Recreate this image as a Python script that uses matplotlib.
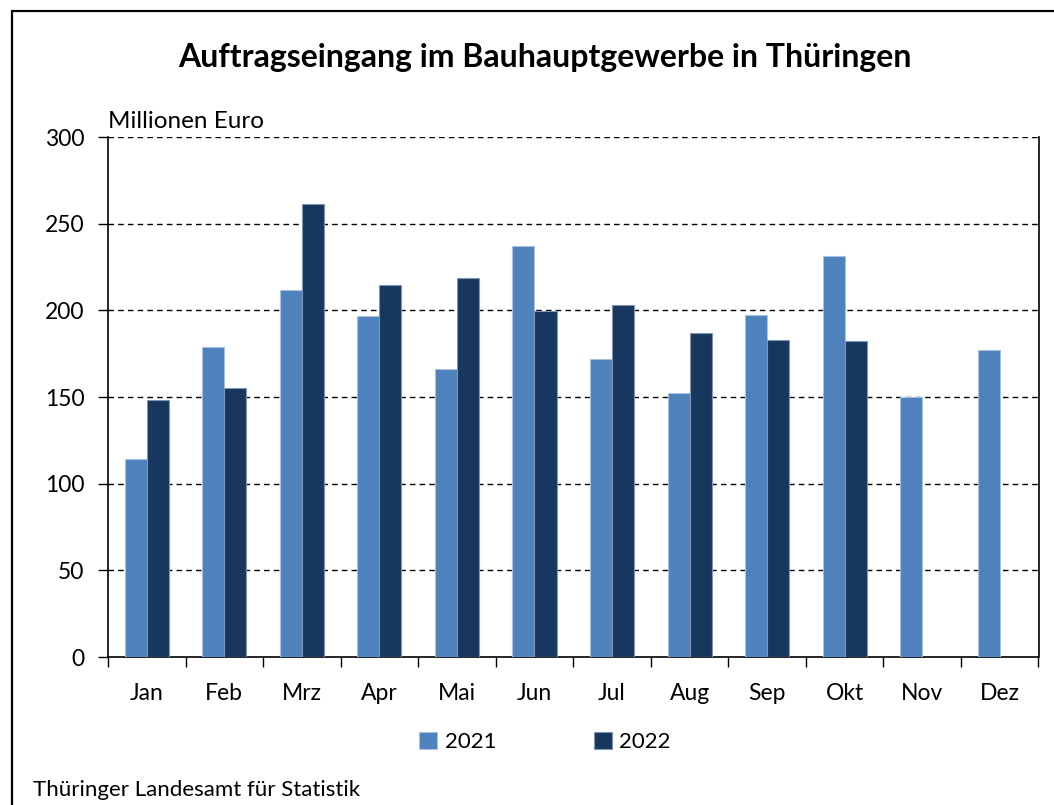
import matplotlib
matplotlib.use("Agg")
import matplotlib.pyplot as plt
import numpy as np
from matplotlib.patches import Rectangle

plt.rcParams['font.family'] = ['Lato', 'DejaVu Sans']

months = ["Jan", "Feb", "Mrz", "Apr", "Mai", "Jun", "Jul", "Aug", "Sep", "Okt", "Nov", "Dez"]
werte2021 = [114.4, 178.7, 211.9, 196.9, 166.2, 237.3, 171.7, 152.5, 197.3, 231.5, 150.0, 177.1]
werte2022 = [148.1, 155.4, 261.2, 214.6, 218.7, 199.6, 202.9, 186.7, 182.9, 182.3]
yticks = [0, 50, 100, 150, 200, 250, 300]

col2021 = "#4F81BD"
col2022 = "#17375E"

fig = plt.figure(figsize=(10.54, 8.05), dpi=100)
ax = fig.add_axes([108/1054, 1-657/805, (1038.5-108)/1054, (657-137)/805])

x = np.arange(len(months))
w = 0.284
ax.bar(x[:len(werte2021)] - w/2, werte2021, w, color=col2021, edgecolor="#A9C1E0", linewidth=0.8, label="2021", zorder=3)
ax.bar(x[:len(werte2022)] + w/2, werte2022, w, color=col2022, edgecolor="#8095B5", linewidth=0.8, label="2022", zorder=3)

ax.set_xlim(-0.5, 11.5)
ax.set_ylim(0, 300)
ax.set_yticks(yticks)
ax.tick_params(axis='y', direction='out', length=7, width=1, labelsize=16.5, pad=10)
# Monatsnamen mittig, Striche an den Grenzen
ax.set_xticks(x)
ax.set_xticklabels(months, fontsize=16.5)
ax.tick_params(axis='x', which='major', length=0, pad=19)
ax.set_xticks(np.arange(-0.5, 12, 1), minor=True)
ax.tick_params(axis='x', which='minor', direction='out', length=7, width=1)

for v in yticks[1:]:
    ax.axhline(v, color="black", linestyle=(0, (4, 3)), linewidth=1, zorder=1)

ax.spines['top'].set_visible(False)
for s in ['left', 'right', 'bottom']:
    ax.spines[s].set_linewidth(1.2)
    ax.spines[s].set_color("black")

fig.text(545/1054, 1-57/805, "Auftragseingang im Bauhauptgewerbe in Thüringen",
         ha="center", va="center", fontsize=23, fontweight="bold")
fig.text(108/1054, 1-121/805, "Millionen Euro", ha="left", va="center", fontsize=17.5)
fig.text(33/1054, 1-790/805, "Thüringer Landesamt für Statistik", ha="left", va="center", fontsize=16)

fig.legend(loc="center", bbox_to_anchor=(545/1054, 1-742/805), ncol=2, frameon=False,
           fontsize=16, handlelength=0.8, handleheight=0.8, handletextpad=0.35, columnspacing=4.4)

fig.patches.append(Rectangle((12/1054, -0.1), 1.0, 1.1 - 11/805, transform=fig.transFigure,
                             fill=False, edgecolor="black", linewidth=1.6))

fig.savefig("out.png", dpi=100)
